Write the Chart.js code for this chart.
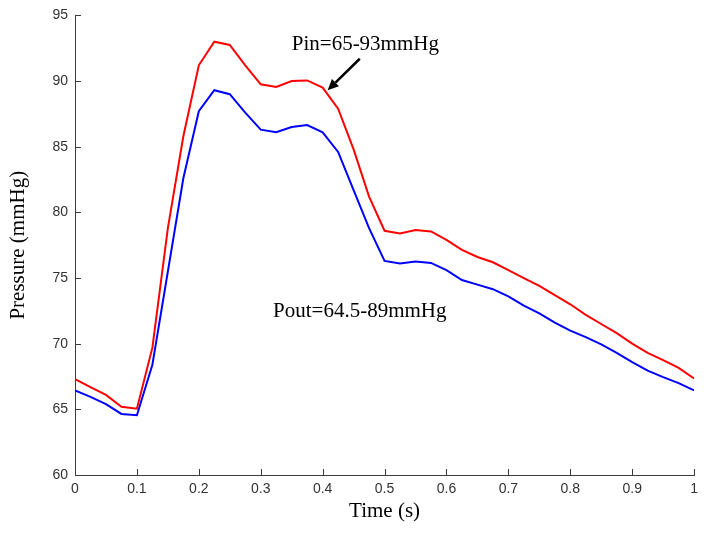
<!DOCTYPE html>
<html>
<head>
<meta charset="utf-8">
<script src="https://cdn.jsdelivr.net/npm/chart.js@4.4.1/dist/chart.umd.min.js"></script>
<style>
  html, body { margin: 0; padding: 0; background: #ffffff; }
  #wrap { width: 704px; height: 533px; position: relative; }
</style>
</head>
<body>
<div id="wrap"><canvas id="c" width="704" height="533"></canvas></div>
<script>
// ---- data ----
const timeS = [0, 0.025, 0.05, 0.075, 0.1, 0.125, 0.15, 0.175, 0.2, 0.225,
               0.25, 0.275, 0.3, 0.325, 0.35, 0.375, 0.4, 0.425, 0.45, 0.475,
               0.5, 0.525, 0.55, 0.575, 0.6, 0.625, 0.65, 0.675, 0.7, 0.725,
               0.75, 0.775, 0.8, 0.825, 0.85, 0.875, 0.9, 0.925, 0.95, 0.975, 1.0];
const pIn  = [67.3, 66.7, 66.1, 65.2, 65.05, 69.7, 78.8, 85.8, 91.2, 93.0,
              92.75, 91.2, 89.75, 89.55, 90.0, 90.05, 89.5, 87.9, 84.8, 81.2,
              78.6, 78.4, 78.65, 78.55, 77.9, 77.15, 76.6, 76.2, 75.6, 75.0,
              74.4, 73.7, 73.0, 72.2, 71.5, 70.8, 70.0, 69.3, 68.75, 68.15, 67.35];
const pOut = [66.45, 65.95, 65.4, 64.65, 64.55, 68.4, 75.5, 82.6, 87.7, 89.3,
              89.0, 87.6, 86.3, 86.1, 86.5, 86.65, 86.1, 84.6, 81.7, 78.8,
              76.3, 76.1, 76.25, 76.15, 75.6, 74.85, 74.5, 74.15, 73.6, 72.9,
              72.3, 71.6, 71.0, 70.5, 69.95, 69.3, 68.6, 67.95, 67.45, 67.0, 66.45];
const xTicks = [0, 0.1, 0.2, 0.3, 0.4, 0.5, 0.6, 0.7, 0.8, 0.9, 1];
const yTicks = [60, 65, 70, 75, 80, 85, 90, 95];
const xTitle = 'Time (s)';
const yTitle = 'Pressure (mmHg)';
const pinLabel = 'Pin=65-93mmHg';
const poutLabel = 'Pout=64.5-89mmHg';
// annotation anchors in data units
const pinLabelAt = [0.469, 92.75];
const poutLabelAt = [0.46, 72.45];
const arrowFrom = [0.46, 91.7];
const arrowTo = [0.408, 89.3];

const toXY = (ys) => timeS.map((t, i) => ({ x: t, y: ys[i] }));

const inwardTicks = {
  id: 'inwardTicks',
  afterDraw(chart) {
    const { ctx, scales: { x, y } } = chart;
    ctx.save();
    ctx.strokeStyle = '#3c3c3c';
    ctx.lineWidth = 1;
    ctx.beginPath();
    xTicks.forEach(v => {
      const px = Math.round(x.getPixelForValue(v)) + 0.5;
      ctx.moveTo(px, y.bottom);
      ctx.lineTo(px, y.bottom - 6);
    });
    yTicks.forEach(v => {
      const py = Math.round(y.getPixelForValue(v)) + 0.5;
      ctx.moveTo(x.left, py);
      ctx.lineTo(x.left + 6, py);
    });
    ctx.stroke();
    ctx.restore();
  }
};

const annotations = {
  id: 'annotations',
  afterDatasetsDraw(chart) {
    const { ctx, scales: { x, y } } = chart;
    ctx.save();
    ctx.fillStyle = '#000';
    ctx.font = '21px "Liberation Serif", "Times New Roman", serif';
    ctx.textAlign = 'center';
    ctx.textBaseline = 'middle';
    ctx.fillText(pinLabel, x.getPixelForValue(pinLabelAt[0]), y.getPixelForValue(pinLabelAt[1]));
    ctx.fillText(poutLabel, x.getPixelForValue(poutLabelAt[0]), y.getPixelForValue(poutLabelAt[1]));
    // arrow
    const x1 = x.getPixelForValue(arrowFrom[0]), y1 = y.getPixelForValue(arrowFrom[1]);
    const x2 = x.getPixelForValue(arrowTo[0]), y2 = y.getPixelForValue(arrowTo[1]);
    const ang = Math.atan2(y2 - y1, x2 - x1);
    const head = 11, hw = 5;
    const bx = x2 - head * Math.cos(ang), by = y2 - head * Math.sin(ang);
    ctx.strokeStyle = '#000';
    ctx.lineWidth = 2.5;
    ctx.beginPath();
    ctx.moveTo(x1, y1);
    ctx.lineTo(bx, by);
    ctx.stroke();
    ctx.beginPath();
    ctx.moveTo(x2, y2);
    ctx.lineTo(bx + hw * Math.sin(ang), by - hw * Math.cos(ang));
    ctx.lineTo(bx - hw * Math.sin(ang), by + hw * Math.cos(ang));
    ctx.closePath();
    ctx.fill();
    ctx.restore();
  }
};

new Chart(document.getElementById('c'), {
  type: 'line',
  data: {
    datasets: [
      { label: 'Pin', data: toXY(pIn), borderColor: '#ff0000', borderWidth: 2,
        pointRadius: 0, tension: 0, fill: false },
      { label: 'Pout', data: toXY(pOut), borderColor: '#0000ff', borderWidth: 2,
        pointRadius: 0, tension: 0, fill: false }
    ]
  },
  options: {
    responsive: false,
    animation: false,
    devicePixelRatio: 1,
    layout: { padding: { left: 0, right: 9, top: 14, bottom: 0 } },
    plugins: { legend: { display: false }, tooltip: { enabled: false } },
    scales: {
      x: {
        type: 'linear', min: 0, max: 1,
        afterBuildTicks(scale) { scale.ticks = xTicks.map(v => ({ value: v })); },
        afterFit(scale) { scale.height = 58; },
        grid: { drawOnChartArea: false, drawTicks: false },
        border: { display: true, color: '#3c3c3c', width: 1 },
        ticks: {
          padding: 6, color: '#333',
          font: { family: '"Liberation Sans", Arial, sans-serif', size: 14 },
          maxRotation: 0, autoSkip: false,
          callback: v => String(Number(v.toFixed(1)))
        },
        title: { display: true, text: xTitle, color: '#000',
          font: { family: '"Liberation Serif", "Times New Roman", serif', size: 21 },
          padding: { top: 0, bottom: 9 } }
      },
      y: {
        type: 'linear', min: 60, max: 95,
        afterBuildTicks(scale) { scale.ticks = yTicks.map(v => ({ value: v })); },
        afterFit(scale) { scale.width = 75; },
        grid: { drawOnChartArea: false, drawTicks: false },
        border: { display: true, color: '#3c3c3c', width: 1 },
        ticks: {
          padding: 7, color: '#333',
          font: { family: '"Liberation Sans", Arial, sans-serif', size: 14 },
          autoSkip: false
        },
        title: { display: true, text: yTitle, color: '#000',
          font: { family: '"Liberation Serif", "Times New Roman", serif', size: 21 },
          padding: { top: 6, bottom: 0 } }
      }
    }
  },
  plugins: [inwardTicks, annotations]
});
</script>
</body>
</html>
